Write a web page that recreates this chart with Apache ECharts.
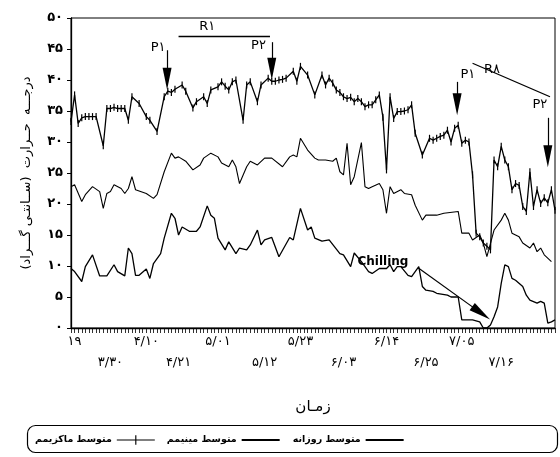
<!DOCTYPE html>
<html><head><meta charset="utf-8">
<script src="https://cdn.jsdelivr.net/npm/echarts@6/dist/echarts.min.js"></script>
<style>html,body{margin:0;padding:0;background:#fff}#c{width:560px;height:457px}</style>
</head><body><div id="c"></div>
<script>
// day index (0 = first day on the axis), temperature in °C
const maxData = [[0,33.3],[1,37.6],[2,33.0],[3,33.9],[4,34.1],[5,34.1],[6,34.1],[7,34.1],[9,29.4],[10,35.4],[11,35.4],[12,35.6],[13,35.4],[14,35.4],[15,35.4],[16,33.5],[17,37.3],[19,36.2],[21,34.1],[22,33.5],[24,31.7],[26,37.3],[27,38.2],[28,38.0],[29,38.5],[31,39.2],[32,38.2],[34,35.5],[35,36.5],[37,37.3],[38,36.2],[39,38.4],[41,38.9],[42,39.7],[43,39.0],[44,38.4],[45,39.7],[46,40.0],[48,33.5],[49,39.2],[50,39.7],[52,36.5],[53,39.2],[55,40.3],[56,39.8],[57,39.8],[58,40.0],[59,40.1],[60,40.3],[62,41.4],[63,39.8],[64,42.2],[66,40.8],[68,37.6],[70,40.8],[71,39.2],[72,40.3],[73,39.5],[74,38.4],[75,38.0],[76,37.3],[77,37.0],[78,37.2],[79,36.5],[80,37.0],[81,36.5],[82,35.7],[83,36.0],[84,36.0],[85,36.8],[86,37.6],[87,34.0],[88,25.5],[89,37.3],[90,33.8],[91,34.9],[92,34.9],[93,35.0],[94,35.2],[95,36.0],[96,31.4],[98,27.9],[100,30.6],[101,30.3],[102,30.6],[103,30.9],[104,31.1],[105,31.9],[106,30.0],[107,32.2],[108,32.7],[109,29.8],[110,30.3],[111,30.0],[112,24.7],[113,15.3],[114,14.7],[115,13.7],[116,13.2],[117,12.6],[118,27.1],[119,26.0],[120,29.3],[121,27.1],[122,26.0],[123,22.3],[124,23.3],[125,23.0],[126,19.6],[127,18.8],[128,25.2],[129,19.6],[130,22.3],[131,20.1],[132,21.0],[133,20.2],[134,22.3],[135,19.0]];
const meanData = [[0,22.8],[1,23.1],[3,20.4],[4,21.5],[6,22.8],[8,22.0],[9,19.3],[10,21.7],[11,22.0],[12,23.1],[14,22.5],[15,21.7],[16,22.5],[17,24.4],[18,22.3],[21,21.7],[23,20.9],[24,21.5],[26,25.2],[28,28.2],[29,27.4],[30,27.6],[32,26.9],[34,25.5],[36,26.3],[37,27.4],[39,28.2],[41,27.6],[42,26.6],[44,26.0],[45,27.1],[46,26.0],[47,23.3],[49,26.0],[50,26.9],[52,26.3],[54,27.4],[56,27.4],[59,26.0],[61,27.6],[62,27.9],[63,27.6],[64,30.6],[66,28.7],[68,27.4],[69,27.1],[71,27.1],[73,26.9],[74,27.4],[75,25.2],[76,24.7],[77,29.8],[78,23.1],[79,24.4],[81,29.9],[82,22.8],[83,22.5],[84,22.8],[86,23.3],[87,22.3],[88,18.5],[89,22.8],[90,21.7],[92,22.3],[93,21.7],[95,21.5],[96,19.8],[98,17.4],[99,18.2],[102,18.2],[104,18.5],[108,18.8],[109,15.3],[111,15.3],[112,14.2],[114,15.0],[115,13.7],[116,11.5],[118,15.8],[120,17.4],[121,18.5],[122,17.4],[123,15.3],[125,14.7],[126,13.7],[128,12.9],[129,13.7],[130,12.3],[131,12.9],[132,11.8],[134,10.7]];
const minData = [[0,9.6],[1,9.1],[3,7.5],[4,9.9],[6,11.8],[8,8.4],[10,8.4],[12,10.2],[13,9.1],[15,8.4],[16,12.9],[17,12.0],[18,8.5],[19,8.5],[21,9.5],[22,8.0],[23,10.4],[25,12.0],[26,14.5],[28,18.5],[29,17.7],[30,15.0],[31,16.3],[33,15.6],[35,15.6],[36,16.3],[38,19.7],[39,18.2],[40,17.7],[41,14.5],[43,12.6],[44,13.9],[46,12.0],[47,12.9],[49,12.6],[50,13.4],[52,15.8],[53,13.4],[54,14.2],[56,14.6],[58,11.5],[61,14.6],[62,14.2],[64,19.3],[66,15.8],[67,16.3],[68,14.5],[70,14.0],[72,14.2],[75,12.0],[76,11.8],[78,9.9],[79,12.1],[81,10.7],[83,9.1],[84,8.8],[86,9.6],[88,9.6],[89,10.2],[90,9.1],[91,9.9],[92,9.9],[94,8.5],[95,8.3],[97,9.9],[98,6.7],[99,6.1],[101,5.9],[102,5.6],[105,5.3],[106,5.0],[108,5.0],[109,1.3],[110,1.3],[112,1.3],[114,1.0],[115,0],[116,0],[117,0.5],[118,1.8],[119,3.4],[120,7.2],[121,10.2],[122,9.9],[123,8.0],[124,7.7],[126,6.7],[127,5.3],[128,4.5],[130,4.0],[131,4.3],[132,4.0],[133,0.8],[134,1.0],[135,1.3]];

const xTickDays = [1,11,21,30,41,54,64,76,88,99,109,120];
const xTickLabels = ['۱۹','۳/۳۰','۴/۱۰','۴/۲۱','۵/۰۱','۵/۱۲','۵/۲۳','۶/۰۳','۶/۱۴','۶/۲۵','۷/۰۵','۷/۱۶'];
const yTickLabels = ['۰','۵','۱۰','۱۵','۲۰','۲۵','۳۰','۳۵','۴۰','۴۵','۵۰'];
const seriesNames = ['متوسط ماکزیمم','متوسط مینیمم','متوسط روزانه'];
const yAxisTitle = '\u200Fدرجـــه  حــرارت  (ســانتـی گـــراد)\u200F';
const xAxisTitle = 'زمـان';

// annotations: [day, °C]
const arrowLines = [
  [[26.8,44.8],[26.8,40.2]],
  [[56,46.1],[56,41.8]],
  [[107.7,39.7],[107.7,36.1]],
  [[133,33.9],[133,27.7]],
  [[96.8,9.7],[114.4,2.4]]
];
const plainLines = [
  [[30,47.1],[55.5,47.1]],
  [[112,42.7],[133.6,37.3]]
];
const textMarks = [
  ['R۱',[38,48.6]],['P۱',[24.3,45.3]],['P۲',[52.3,45.6]],
  ['P۱',[110.7,40.8]],['R۸',[117.4,41.6]],['P۲',[130.8,36.0]],
  ['Chilling',[87,10.6]]
];

const FONT = 'DejaVu Sans';
const hiddenSym = {color: 'rgba(0,0,0,0)', borderColor: 'rgba(0,0,0,0)', borderWidth: 0};
const chart = echarts.init(document.getElementById('c'));
chart.setOption({
  animation: false,
  backgroundColor: '#fff',
  grid: {left: 71, right: 5, top: 18, bottom: 129, show: true, borderColor: '#000', borderWidth: 1},
  graphic: [{type: 'rect', left: 25, top: 423, shape: {width: 530, height: 27, r: 8},
    style: {fill: 'none', stroke: '#000', lineWidth: 1.2}}],
  legend: {
    left: 30, top: 430, align: 'right', itemWidth: 38, itemHeight: 10, itemGap: 12,
    selectedMode: false,
    textStyle: {fontFamily: FONT, fontSize: 9.5, fontWeight: 'bold', color: '#000'},
    data: [
      {name: seriesNames[0], icon: 'path://M0,4.4H40V5.6H0Z M19.4,0H20.6V10H19.4Z'},
      {name: seriesNames[1], itemStyle: hiddenSym},
      {name: seriesNames[2], itemStyle: hiddenSym}
    ]
  },
  xAxis: {
    type: 'value', min: 0, max: 135, interval: 1,
    name: xAxisTitle, nameLocation: 'middle', nameGap: 72,
    nameTextStyle: {fontFamily: FONT, fontSize: 15, color: '#000'},
    splitLine: {show: false},
    axisLine: {lineStyle: {color: '#000', width: 1.3}},
    axisTick: {length: 5, lineStyle: {color: '#000', width: 0.8}},
    axisLabel: {
      margin: 3, lineHeight: 21, fontFamily: FONT, fontSize: 13, color: '#000',
      showMinLabel: true, showMaxLabel: true,
      formatter: v => { const k = xTickDays.indexOf(v); return k < 0 ? '' : (k % 2 ? '\n' : '') + xTickLabels[k]; }
    }
  },
  yAxis: {
    type: 'value', min: 0, max: 50, interval: 5,
    name: yAxisTitle, nameLocation: 'middle', nameGap: 38,
    nameTextStyle: {fontFamily: FONT, fontSize: 13, color: '#000'},
    splitLine: {show: false},
    axisLine: {show: true, lineStyle: {color: '#000', width: 1.3}},
    axisTick: {show: true, length: 4, lineStyle: {color: '#000'}},
    axisLabel: {margin: 8, fontFamily: FONT, fontSize: 13, fontWeight: 'bold', color: '#000',
      formatter: v => yTickLabels[Math.round(v / 5)]}
  },
  series: [
    {
      name: seriesNames[0], type: 'line', data: maxData,
      symbol: 'rect', symbolSize: [1.2, 7], showSymbol: true,
      itemStyle: {color: '#000'}, lineStyle: {color: '#000', width: 1.3},
      markLine: {
        silent: true, symbol: ['none', 'triangle'], symbolSize: [9, 22],
        lineStyle: {color: '#000', width: 1.2, type: 'solid'}, itemStyle: {color: '#000'},
        label: {show: false},
        data: arrowLines.map(l => [{coord: l[0]}, {coord: l[1]}])
      }
    },
    {
      name: seriesNames[1], type: 'line', data: minData,
      symbol: 'none', lineStyle: {color: '#000', width: 1.3}, itemStyle: {color: '#000'},
      markPoint: {
        silent: true, symbol: 'circle', symbolSize: 1, itemStyle: {color: 'rgba(0,0,0,0)'},
        label: {show: true, position: 'inside', color: '#000', fontFamily: FONT, fontSize: 13,
          formatter: p => p.name},
        data: textMarks.map(t => ({name: t[0], coord: t[1],
          label: t[0] === 'Chilling' ? {fontSize: 12, fontWeight: 'bold'} : {}}))
      }
    },
    {
      name: seriesNames[2], type: 'line', data: meanData,
      symbol: 'none', lineStyle: {color: '#000', width: 1.1}, itemStyle: {color: '#000'},
      markLine: {
        silent: true, symbol: ['none', 'none'],
        lineStyle: {color: '#000', width: 1.3, type: 'solid'}, label: {show: false},
        data: plainLines.map(l => [{coord: l[0]}, {coord: l[1]}])
      }
    }
  ]
});
</script>
</body></html>
